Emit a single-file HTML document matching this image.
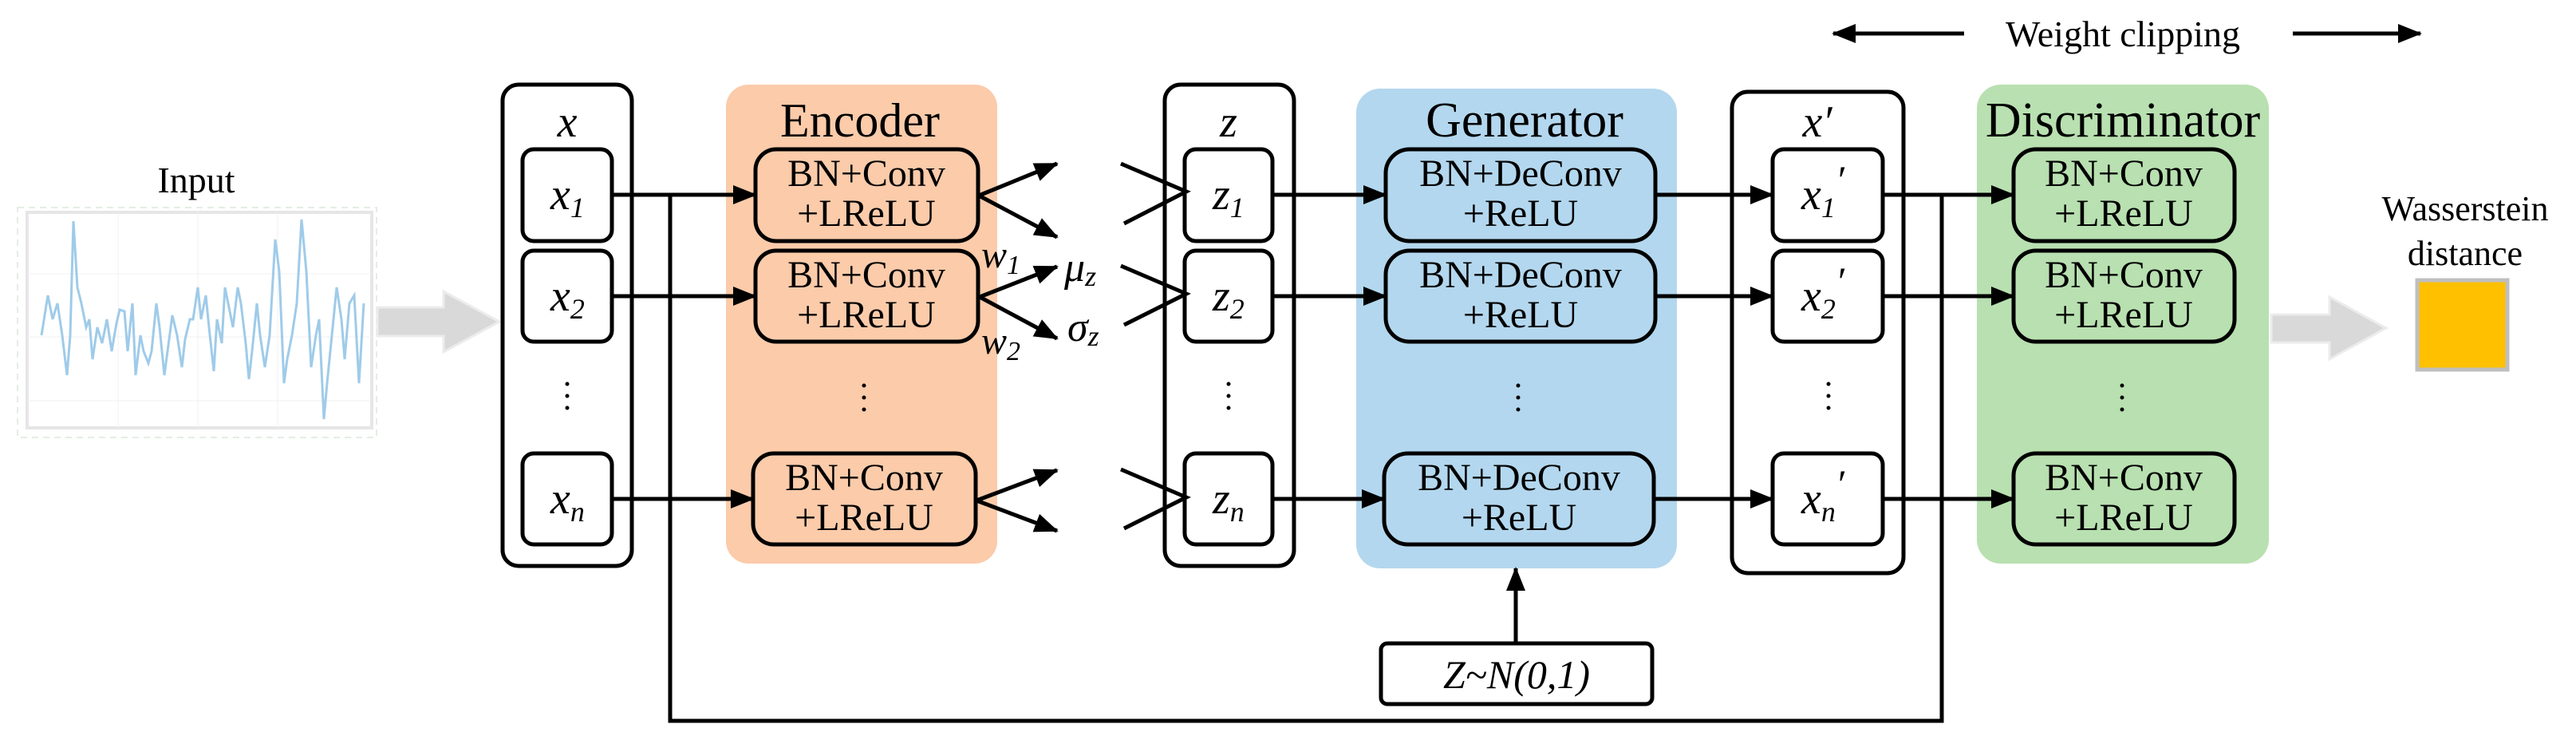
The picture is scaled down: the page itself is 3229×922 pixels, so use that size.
<!DOCTYPE html>
<html><head><meta charset="utf-8"><style>
html,body{margin:0;padding:0;background:#fff;}
svg{display:block;font-family:'Liberation Serif','Times New Roman',serif;}
svg text{font-family:'Liberation Serif','Times New Roman',serif;fill:#000;}
.it{font-style:italic;}
</style></head><body>
<svg width="3229" height="922" viewBox="0 0 3229 922" xmlns="http://www.w3.org/2000/svg" font-family="Liberation Serif, serif">
<defs>
<marker id="ah" markerWidth="30" markerHeight="24" refX="28" refY="12" orient="auto" markerUnits="userSpaceOnUse">
<path d="M0,0 L30,12 L0,24 Z" fill="#000"/></marker>
</defs>

<!-- Input chart -->
<text x="246" y="241" font-size="46" text-anchor="middle" font-family="Liberation Serif, serif">Input</text>
<rect x="22" y="260" width="450" height="288" fill="#fff" stroke="#e4eee4" stroke-width="2" stroke-dasharray="8,6"/>
<rect x="34" y="266" width="432" height="270" fill="#fff" stroke="#e6e6e6" stroke-width="4"/>
<g stroke="#f0f0f0" stroke-width="1">
<line x1="34" y1="343" x2="466" y2="343"/><line x1="34" y1="422" x2="466" y2="422"/><line x1="34" y1="502" x2="466" y2="502"/>
<line x1="148" y1="266" x2="148" y2="536"/><line x1="248" y1="266" x2="248" y2="536"/><line x1="348" y1="266" x2="348" y2="536"/>
</g>
<polyline fill="none" stroke="#9fcbe9" stroke-width="3" points="52,420 60,370 66,400 72,380 78,420 84,470 88,420 92,277 97,360 102,380 108,410 112,400 116,450 122,410 128,430 134,400 140,440 146,405 150,388 156,390 160,440 166,380 170,470 176,420 180,440 186,455 190,440 196,380 200,410 206,470 210,440 216,395 222,420 228,460 232,425 238,400 242,400 248,360 252,400 258,370 262,410 268,465 272,400 278,430 282,360 288,390 292,410 298,360 302,380 308,430 312,475 316,440 322,380 326,420 332,460 338,420 345,300 350,340 356,480 360,450 366,420 372,380 378,275 384,340 390,460 396,420 400,400 406,525 410,480 416,420 422,360 428,400 432,450 438,380 444,370 450,480 456,380"/>

<!-- gray arrow 1 -->
<polygon points="473,385 556,385 556,365 626,403 556,441 556,421 473,421" fill="#d9d9d9" stroke="#ececec" stroke-width="3"/>

<g font-family="Liberation Serif, serif">
<!-- x column -->
<rect x="630" y="106" width="162" height="603" rx="20" fill="#fff" stroke="#000" stroke-width="5"/>
<text x="711" y="171" font-size="56" class="it" text-anchor="middle">x</text>
<rect x="655" y="187" width="112" height="115" rx="14" fill="#fff" stroke="#000" stroke-width="5"/>
<rect x="655" y="314" width="112" height="114" rx="14" fill="#fff" stroke="#000" stroke-width="5"/>
<rect x="655" y="568" width="112" height="114" rx="14" fill="#fff" stroke="#000" stroke-width="5"/>
<text x="690" y="262" font-size="56" class="it">x<tspan font-size="36" dy="10">1</tspan></text>
<text x="690" y="389" font-size="56" class="it">x<tspan font-size="36" dy="10">2</tspan></text>
<text x="690" y="643" font-size="56" class="it">x<tspan font-size="36" dy="10">n</tspan></text>
<g fill="#000"><circle cx="711" cy="481" r="2.5"/><circle cx="711" cy="496" r="2.5"/><circle cx="711" cy="511" r="2.5"/></g>

<!-- Encoder -->
<rect x="910" y="106" width="340" height="600" rx="28" fill="#fbcbaa"/>
<text x="1078" y="171" font-size="60" text-anchor="middle">Encoder</text>
<g fill="#fbcbaa" stroke="#000" stroke-width="5">
<rect x="947" y="187" width="279" height="115" rx="26"/>
<rect x="947" y="314" width="279" height="114" rx="26"/>
<rect x="944" y="568" width="279" height="114" rx="26"/>
</g>
<g font-size="48" text-anchor="middle">
<text x="1086" y="233">BN+Conv</text><text x="1086" y="283">+LReLU</text>
<text x="1086" y="360">BN+Conv</text><text x="1086" y="410">+LReLU</text>
<text x="1083" y="614">BN+Conv</text><text x="1083" y="664">+LReLU</text>
</g>
<g fill="#000"><circle cx="1083" cy="483" r="2.5"/><circle cx="1083" cy="498" r="2.5"/><circle cx="1083" cy="513" r="2.5"/></g>

<!-- feedback line -->
<polyline points="840,244 840,903 2434,903 2434,244" fill="none" stroke="#000" stroke-width="5"/>

<g stroke="#000" stroke-width="5" marker-end="url(#ah)">
<line x1="767" y1="244" x2="947" y2="244"/>
<line x1="767" y1="371" x2="947" y2="371"/>
<line x1="767" y1="625" x2="944" y2="625"/>
</g>

<g stroke="#000" stroke-width="5" marker-end="url(#ah)">
<line x1="1227" y1="245" x2="1325" y2="205"/>
<line x1="1227" y1="245" x2="1325" y2="297"/>
<line x1="1228" y1="372" x2="1325" y2="334"/>
<line x1="1228" y1="372" x2="1325" y2="424"/>
<line x1="1224" y1="627" x2="1325" y2="589"/>
<line x1="1224" y1="627" x2="1325" y2="665"/>
</g>
<text x="1230" y="335" font-size="48" class="it">w<tspan font-size="34" dy="8">1</tspan></text>
<text x="1230" y="443" font-size="48" class="it">w<tspan font-size="34" dy="8">2</tspan></text>
<text x="1334" y="352" font-size="52" class="it">μ<tspan font-size="36" dy="6">z</tspan></text>
<text x="1338" y="427" font-size="52" class="it">σ<tspan font-size="36" dy="6">z</tspan></text>

<!-- z column -->
<rect x="1460" y="106" width="162" height="603" rx="20" fill="#fff" stroke="#000" stroke-width="5"/>
<text x="1540" y="171" font-size="56" class="it" text-anchor="middle">z</text>
<rect x="1485" y="187" width="110" height="115" rx="14" fill="#fff" stroke="#000" stroke-width="5"/>
<rect x="1485" y="314" width="110" height="114" rx="14" fill="#fff" stroke="#000" stroke-width="5"/>
<rect x="1485" y="568" width="110" height="114" rx="14" fill="#fff" stroke="#000" stroke-width="5"/>
<text x="1520" y="262" font-size="56" class="it">z<tspan font-size="36" dy="10">1</tspan></text>
<text x="1520" y="389" font-size="56" class="it">z<tspan font-size="36" dy="10">2</tspan></text>
<text x="1520" y="643" font-size="56" class="it">z<tspan font-size="36" dy="10">n</tspan></text>
<g fill="#000"><circle cx="1540" cy="481" r="2.5"/><circle cx="1540" cy="496" r="2.5"/><circle cx="1540" cy="511" r="2.5"/></g>
<g stroke="#000" stroke-width="5" fill="none">
<polyline points="1405,205 1487,240 1409,280"/>
<polyline points="1405,333 1487,368 1409,407"/>
<polyline points="1405,588 1487,623 1409,662"/>
</g>

<!-- Generator -->
<rect x="1700" y="111" width="402" height="601" rx="30" fill="#b3d7ee"/>
<text x="1911" y="171" font-size="62" text-anchor="middle">Generator</text>
<g fill="#b3d7ee" stroke="#000" stroke-width="5">
<rect x="1737" y="187" width="338" height="115" rx="30"/>
<rect x="1737" y="314" width="338" height="114" rx="30"/>
<rect x="1735" y="568" width="338" height="114" rx="30"/>
</g>
<g font-size="48" text-anchor="middle">
<text x="1906" y="233">BN+DeConv</text><text x="1906" y="283">+ReLU</text>
<text x="1906" y="360">BN+DeConv</text><text x="1906" y="410">+ReLU</text>
<text x="1904" y="614">BN+DeConv</text><text x="1904" y="664">+ReLU</text>
</g>
<g fill="#000"><circle cx="1903" cy="483" r="2.5"/><circle cx="1903" cy="498" r="2.5"/><circle cx="1903" cy="513" r="2.5"/></g>
<rect x="1731" y="806" width="340" height="76" rx="8" fill="#fff" stroke="#000" stroke-width="5"/>
<text x="1901" y="862" font-size="50" class="it" text-anchor="middle">Z~N(0,1)</text>

<!-- x' column -->
<rect x="2171" y="115" width="215" height="603" rx="20" fill="#fff" stroke="#000" stroke-width="5"/>
<text x="2278" y="171" font-size="56" class="it" text-anchor="middle">x′</text>
<rect x="2222" y="187" width="138" height="115" rx="14" fill="#fff" stroke="#000" stroke-width="5"/>
<rect x="2222" y="314" width="138" height="114" rx="14" fill="#fff" stroke="#000" stroke-width="5"/>
<rect x="2222" y="568" width="138" height="114" rx="14" fill="#fff" stroke="#000" stroke-width="5"/>
<text x="2258" y="262" font-size="56" class="it">x<tspan font-size="36" dy="10">1</tspan><tspan font-size="50" dy="-30">′</tspan></text>
<text x="2258" y="389" font-size="56" class="it">x<tspan font-size="36" dy="10">2</tspan><tspan font-size="50" dy="-30">′</tspan></text>
<text x="2258" y="643" font-size="56" class="it">x<tspan font-size="36" dy="10">n</tspan><tspan font-size="50" dy="-30">′</tspan></text>
<g fill="#000"><circle cx="2292" cy="481" r="2.5"/><circle cx="2292" cy="496" r="2.5"/><circle cx="2292" cy="511" r="2.5"/></g>

<g stroke="#000" stroke-width="5" marker-end="url(#ah)">
<line x1="1595" y1="244" x2="1737" y2="244"/>
<line x1="1595" y1="371" x2="1737" y2="371"/>
<line x1="1595" y1="625" x2="1735" y2="625"/>
<line x1="2075" y1="244" x2="2222" y2="244"/>
<line x1="2075" y1="371" x2="2222" y2="371"/>
<line x1="2073" y1="625" x2="2222" y2="625"/>
<line x1="1900" y1="806" x2="1900" y2="712"/>
</g>

<!-- Discriminator -->
<rect x="2478" y="106" width="366" height="600" rx="30" fill="#b8e0b0"/>
<text x="2661" y="171" font-size="62" text-anchor="middle">Discriminator</text>
<g fill="#b8e0b0" stroke="#000" stroke-width="5">
<rect x="2524" y="187" width="277" height="115" rx="28"/>
<rect x="2524" y="314" width="277" height="114" rx="28"/>
<rect x="2524" y="568" width="277" height="114" rx="28"/>
</g>
<g font-size="48" text-anchor="middle">
<text x="2662" y="233">BN+Conv</text><text x="2662" y="283">+LReLU</text>
<text x="2662" y="360">BN+Conv</text><text x="2662" y="410">+LReLU</text>
<text x="2662" y="614">BN+Conv</text><text x="2662" y="664">+LReLU</text>
</g>
<g fill="#000"><circle cx="2660" cy="483" r="2.5"/><circle cx="2660" cy="498" r="2.5"/><circle cx="2660" cy="513" r="2.5"/></g>
<g stroke="#000" stroke-width="5" marker-end="url(#ah)">
<line x1="2360" y1="244" x2="2524" y2="244"/>
<line x1="2360" y1="371" x2="2524" y2="371"/>
<line x1="2360" y1="625" x2="2524" y2="625"/>
</g>

<!-- Weight clipping -->
<g stroke="#000" stroke-width="5">
<line x1="2462" y1="42" x2="2298" y2="42" marker-end="url(#ah)"/>
<line x1="2874" y1="42" x2="3034" y2="42" marker-end="url(#ah)"/>
</g>
<text x="2661" y="58" font-size="46" text-anchor="middle">Weight clipping</text>

<!-- gray arrow 2 -->
<polygon points="2847,394 2920,394 2920,372 2991,411 2920,450 2920,429 2847,429" fill="#d9d9d9" stroke="#ececec" stroke-width="3"/>

<!-- Wasserstein -->
<text x="3090" y="276" font-size="44" text-anchor="middle">Wasserstein</text>
<text x="3090" y="332" font-size="44" text-anchor="middle">distance</text>
<rect x="3030" y="351" width="113" height="112" fill="#ffc000" stroke="#bfbfbf" stroke-width="5"/>
</g>
</svg>
</body></html>
